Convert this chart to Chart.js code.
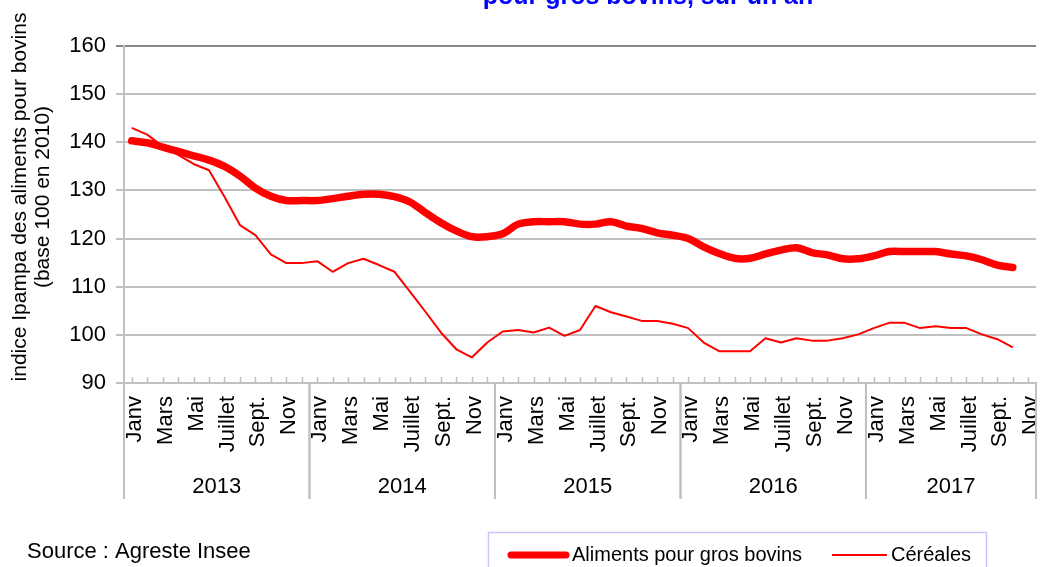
<!DOCTYPE html>
<html>
<head>
<meta charset="utf-8">
<script src="https://cdn.jsdelivr.net/npm/chart.js@4/dist/chart.umd.min.js"></script>
<style>
  html, body { margin: 0; padding: 0; background: #fff; }
  canvas { display: block; }
</style>
</head>
<body>
<canvas id="chart" width="1043" height="567"></canvas>
<script>
// Indice Ipampa des aliments pour bovins (base 100 en 2010), janv. 2013 - nov. 2017
const years = ['2013', '2014', '2015', '2016', '2017'];
const monthsPerYear = [12, 12, 12, 12, 11];
const monthNames = ['Janv', 'Févr', 'Mars', 'Avril', 'Mai', 'Juin', 'Juillet', 'Août', 'Sept.', 'Oct.', 'Nov', 'Déc.'];
const yTicks = [90, 100, 110, 120, 130, 140, 150, 160];

const aliments = [
  140.3, 139.9, 139.0, 138.1, 137.2, 136.3, 135.0, 133.0, 130.5, 128.8, 127.9, 127.9,
  127.9, 128.3, 128.8, 129.2, 129.2, 128.7, 127.6, 125.4, 123.3, 121.6, 120.4, 120.4,
  121.0, 123.0, 123.5, 123.5, 123.5, 123.0, 123.0, 123.5, 122.6, 122.1, 121.2, 120.7,
  120.0, 118.3, 116.9, 115.9, 115.9, 116.8, 117.6, 118.1, 117.1, 116.6, 115.8, 115.8,
  116.4, 117.3, 117.3, 117.3, 117.3, 116.8, 116.4, 115.6, 114.5, 114.0, null
];
const cereales = [
  143.0, 141.6, 139.2, 137.4, 135.5, 134.2, 128.7, 122.8, 120.7, 116.7, 114.9, 114.9,
  115.3, 113.1, 114.9, 115.8, 114.5, 113.1, 109.0, 104.8, 100.5, 97.0, 95.3, 98.4,
  100.7, 101.0, 100.5, 101.5, 99.8, 101.0, 106.0, 104.7, 103.8, 102.9, 102.9, 102.3,
  101.4, 98.4, 96.6, 96.6, 96.6, 99.3, 98.4, 99.3, 98.8, 98.8, 99.3, 100.1,
  101.4, 102.5, 102.5, 101.4, 101.8, 101.4, 101.4, 100.1, 99.1, 97.4, null
];

const labels = [];
years.forEach((y, k) => {
  for (let m = 0; m < monthsPerYear[k]; m++) labels.push(monthNames[m] + ' ' + y);
});

const FONT = 'Liberation Sans, Arial, sans-serif';
const GRID = '#c0c0c0';

// habillage: titre coupé, titre d'axe, repères mensuels, années, source, légende
const decorations = {
  id: 'decorations',
  afterDraw(chart) {
    const ctx = chart.ctx;
    const xs = chart.scales.x;
    const area = chart.chartArea;
    const step = xs.getPixelForValue(1) - xs.getPixelForValue(0);
    ctx.save();

    // petits repères mensuels, vers l'intérieur
    ctx.strokeStyle = GRID;
    ctx.lineWidth = 1.5;
    for (let i = 0; i < labels.length; i++) {
      const px = Math.round(xs.getPixelForValue(i)) + 0.5;
      ctx.beginPath();
      ctx.moveTo(px, area.bottom);
      ctx.lineTo(px, area.bottom - 6);
      ctx.stroke();
    }

    // séparateurs et libellés des années
    ctx.lineWidth = 2;
    ctx.fillStyle = '#000';
    ctx.font = '22px ' + FONT;
    ctx.textAlign = 'center';
    ctx.textBaseline = 'middle';
    let start = 0;
    years.forEach((y, k) => {
      const x0 = xs.getPixelForValue(start) - step / 2;
      const x1 = xs.getPixelForValue(start + monthsPerYear[k] - 1) + step / 2;
      [x0, x1].forEach(px => {
        ctx.beginPath();
        ctx.moveTo(px, area.bottom);
        ctx.lineTo(px, 499);
        ctx.stroke();
      });
      ctx.fillText(y, (x0 + x1) / 2, 487);
      start += monthsPerYear[k];
    });

    // titre de l'axe vertical
    ctx.font = '21px ' + FONT;
    ctx.save();
    ctx.translate(20, 197);
    ctx.rotate(-Math.PI / 2);
    ctx.fillText('indice Ipampa des aliments pour bovins', 0, 0);
    ctx.fillText('(base 100 en 2010)', 0, 23);
    ctx.restore();

    // titre (coupé en haut de l'image)
    ctx.fillStyle = '#0000ff';
    ctx.font = 'bold 25px ' + FONT;
    ctx.textBaseline = 'alphabetic';
    ctx.fillText('pour gros bovins, sur un an', 648, 4);

    // source
    ctx.fillStyle = '#000';
    ctx.font = '22px ' + FONT;
    ctx.textAlign = 'left';
    ctx.textBaseline = 'middle';
    ctx.fillText('Source : Agreste Insee', 27, 552);

    // légende
    ctx.strokeStyle = '#c8c8ff';
    ctx.lineWidth = 1.5;
    ctx.strokeRect(488.5, 532.5, 498, 60);
    ctx.strokeStyle = '#ff0000';
    ctx.lineCap = 'round';
    ctx.lineWidth = 7;
    ctx.beginPath(); ctx.moveTo(511, 555); ctx.lineTo(566, 555); ctx.stroke();
    ctx.lineWidth = 2;
    ctx.lineCap = 'butt';
    ctx.beginPath(); ctx.moveTo(832, 555); ctx.lineTo(887, 555); ctx.stroke();
    ctx.font = '20px ' + FONT;
    ctx.fillText('Aliments pour gros bovins', 572, 555);
    ctx.fillText('Céréales', 891, 555);

    ctx.restore();
  }
};

new Chart(document.getElementById('chart').getContext('2d'), {
  type: 'line',
  data: {
    labels: labels,
    datasets: [{
      label: 'Aliments pour gros bovins',
      data: aliments,
      borderColor: '#ff0000',
      borderWidth: 7.5,
      borderCapStyle: 'round',
      borderJoinStyle: 'round',
      tension: 0.35,
      pointRadius: 0,
      fill: false
    }, {
      label: 'Céréales',
      data: cereales,
      borderColor: '#ff0000',
      borderWidth: 2,
      borderJoinStyle: 'round',
      tension: 0,
      pointRadius: 0,
      fill: false
    }]
  },
  options: {
    responsive: false,
    animation: false,
    devicePixelRatio: 1,
    layout: { padding: { top: 46, right: 7, bottom: 0, left: 0 } },
    plugins: {
      legend: { display: false },
      tooltip: { enabled: false },
      title: { display: false }
    },
    scales: {
      x: {
        offset: true,
        grid: { display: false, drawTicks: false },
        border: { display: true, color: GRID, width: 2 },
        ticks: {
          autoSkip: false,
          minRotation: 90,
          maxRotation: 90,
          padding: 13,
          labelOffset: 3,
          color: '#000',
          font: { family: FONT, size: 22 },
          callback: (v, i) => (i % 12) % 2 === 0 ? monthNames[i % 12] : ''
        },
        afterFit: scale => {
          scale.height = 184;
          scale.paddingLeft = 0;
          scale.paddingRight = 0;
        }
      },
      y: {
        min: yTicks[0],
        max: yTicks[yTicks.length - 1],
        afterBuildTicks: scale => { scale.ticks = yTicks.map(v => ({ value: v })); },
        grid: {
          color: ctx => ctx.tick && ctx.tick.value === 160 ? '#888888' : GRID,
          lineWidth: 2,
          tickLength: 8
        },
        border: { display: true, color: GRID, width: 2 },
        ticks: {
          padding: 10,
          color: '#000',
          font: { family: FONT, size: 22 }
        },
        afterFit: scale => {
          scale.width = 124;
          scale.paddingTop = 0;
          scale.paddingBottom = 0;
        }
      }
    }
  },
  plugins: [decorations]
});
</script>
</body>
</html>
